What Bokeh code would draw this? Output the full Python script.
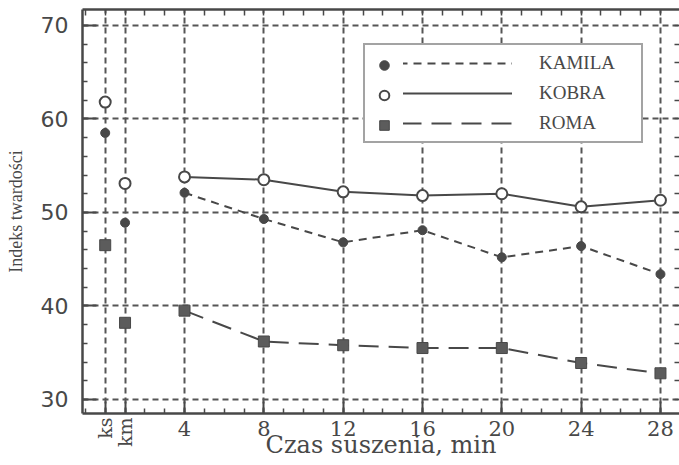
import math
from bokeh.plotting import figure
from bokeh.models import (LinearAxis, FixedTicker, Legend, LegendItem,
                          ColumnDataSource, Range1d)
from bokeh.embed import file_html
from bokeh.resources import INLINE

# ---- data ----
pre_labels = ["ks", "km"]          # single measurements before drying
pre_x = [0, 1]                     # their category slots on the x axis
times = [4, 8, 12, 16, 20, 24, 28]  # drying time, min

kamila_pre = [58.5, 48.9]
kamila = [52.1, 49.3, 46.8, 48.1, 45.2, 46.4, 43.4]
kobra_pre = [61.8, 53.1]
kobra = [53.8, 53.5, 52.2, 51.8, 52.0, 50.6, 51.3]
roma_pre = [46.5, 38.2]
roma = [39.5, 36.2, 35.8, 35.5, 35.5, 33.9, 32.8]

y_ticks = [30, 40, 50, 60, 70]
x_ticks = pre_x + times

INK = "#484848"
GRID = "#555555"

p = figure(width=679, height=465, output_backend="svg", toolbar_location=None,
           x_range=Range1d(-1.145, 28.96), y_range=Range1d(28.5, 71.7),
           min_border_left=82, min_border_right=0, min_border_top=9,
           min_border_bottom=52, background_fill_color="white",
           border_fill_color="white")
p.outline_line_color = None

# grid
p.xgrid.ticker = FixedTicker(ticks=x_ticks)
p.ygrid.ticker = FixedTicker(ticks=y_ticks)
for g in (p.xgrid[0], p.ygrid[0]):
    g.grid_line_color = GRID
    g.grid_line_dash = "6 4"
    g.grid_line_width = 2

minor_x = list(range(-1, 29))
minor_y = list(range(30, 72, 2))


def style_axis(ax):
    ax.axis_line_color = INK
    ax.axis_line_width = 2.5
    ax.major_tick_line_color = INK
    ax.minor_tick_line_color = INK
    ax.major_tick_line_width = 2
    ax.minor_tick_line_width = 1.5
    ax.major_tick_in = 12
    ax.major_tick_out = 0
    ax.minor_tick_in = 5
    ax.minor_tick_out = 0
    ax.major_label_text_color = INK


# bottom axis: numeric drying times and the axis title
xa = p.xaxis[0]
xa.ticker = FixedTicker(ticks=x_ticks, minor_ticks=minor_x)
style_axis(xa)
xa.major_label_overrides = {x: "" for x in pre_x}
xa.major_label_text_font = "DejaVu Serif"
xa.major_label_text_font_size = "21px"
xa.major_label_standoff = 7
xa.axis_label = "Czas suszenia, min"
xa.axis_label_text_font = "DejaVu Serif"
xa.axis_label_text_font_size = "24px"
xa.axis_label_text_font_style = "normal"
xa.axis_label_text_color = INK
xa.axis_label_standoff = -8

# second bottom axis: rotated ks / km labels, pulled back up under the frame
xb = LinearAxis(ticker=FixedTicker(ticks=pre_x))
xb.major_label_overrides = {x: lab for x, lab in zip(pre_x, pre_labels)}
xb.axis_line_color = None
xb.major_tick_line_color = None
xb.minor_tick_line_color = None
xb.major_tick_in = 0
xb.major_tick_out = 0
xb.major_label_orientation = math.pi / 2
xb.major_label_text_font = "DejaVu Serif"
xb.major_label_text_font_size = "19px"
xb.major_label_text_color = INK
xb.major_label_standoff = -44
p.add_layout(xb, "below")

# left axis
ya = p.yaxis[0]
ya.ticker = FixedTicker(ticks=y_ticks, minor_ticks=minor_y)
style_axis(ya)
ya.major_tick_in = 14
ya.major_label_text_font = "DejaVu Sans"
ya.major_label_text_font_size = "22px"
ya.major_label_standoff = 14
ya.axis_label = "Indeks twardości"
ya.axis_label_text_font = "Liberation Serif"
ya.axis_label_text_font_size = "18px"
ya.axis_label_text_font_style = "normal"
ya.axis_label_text_color = INK
ya.axis_label_standoff = 12

# top and right frame axes (ticks only)
top = LinearAxis(ticker=FixedTicker(ticks=[], minor_ticks=minor_x))
style_axis(top)
top.minor_tick_in = 6
top.major_label_standoff = 0
p.add_layout(top, "above")

right = LinearAxis(ticker=FixedTicker(ticks=[], minor_ticks=minor_y))
style_axis(right)
right.axis_line_color = None
right.minor_tick_in = 5
right.major_label_standoff = 0
p.add_layout(right, "right")

# series
src_line = ColumnDataSource(dict(t=times, kamila=kamila, kobra=kobra, roma=roma))
src_pts = ColumnDataSource(dict(t=pre_x + times, kamila=kamila_pre + kamila,
                                kobra=kobra_pre + kobra, roma=roma_pre + roma))

l_kam = p.line("t", "kamila", source=src_line, line_color=INK, line_width=2,
               line_dash="8 6")
l_kob = p.line("t", "kobra", source=src_line, line_color=INK, line_width=2)
l_rom = p.line("t", "roma", source=src_line, line_color=INK, line_width=2,
               line_dash="20 10")

s_kam = p.scatter("t", "kamila", source=src_pts, marker="circle", size=9,
                  fill_color=INK, line_color=INK)
s_kob = p.scatter("t", "kobra", source=src_pts, marker="circle", size=11,
                  fill_color="white", line_color=INK, line_width=2)
s_rom = p.scatter("t", "roma", source=src_pts, marker="square", size=11,
                  fill_color="#5c5c5c", line_color=INK, line_width=1)

# legend: box with lines + labels
leg_lines = Legend(items=[LegendItem(label="KAMILA", renderers=[l_kam]),
                          LegendItem(label="KOBRA", renderers=[l_kob]),
                          LegendItem(label="ROMA", renderers=[l_rom])],
                   location=(281, 270), padding=6, spacing=6, margin=0,
                   glyph_width=141, glyph_height=24, label_height=24,
                   label_standoff=27, label_width=96,
                   label_text_font="Liberation Serif", label_text_font_size="19px",
                   label_text_color=INK,
                   border_line_color=INK, border_line_width=2,
                   background_fill_color="white", background_fill_alpha=1.0)
p.add_layout(leg_lines, "center")

# legend: markers at the left of each line
leg_marks = Legend(items=[LegendItem(label=" ", renderers=[s_kam]),
                          LegendItem(label=" ", renderers=[s_kob]),
                          LegendItem(label=" ", renderers=[s_rom])],
                   location=(287, 276), padding=0, spacing=6, margin=0,
                   glyph_width=30, glyph_height=24, label_height=24,
                   label_standoff=0, label_width=4,
                   label_text_font="Liberation Serif", label_text_font_size="19px",
                   border_line_alpha=0,
                   background_fill_color="white", background_fill_alpha=1.0)
p.add_layout(leg_marks, "center")

open("out.html", "w").write(file_html(p, INLINE))
